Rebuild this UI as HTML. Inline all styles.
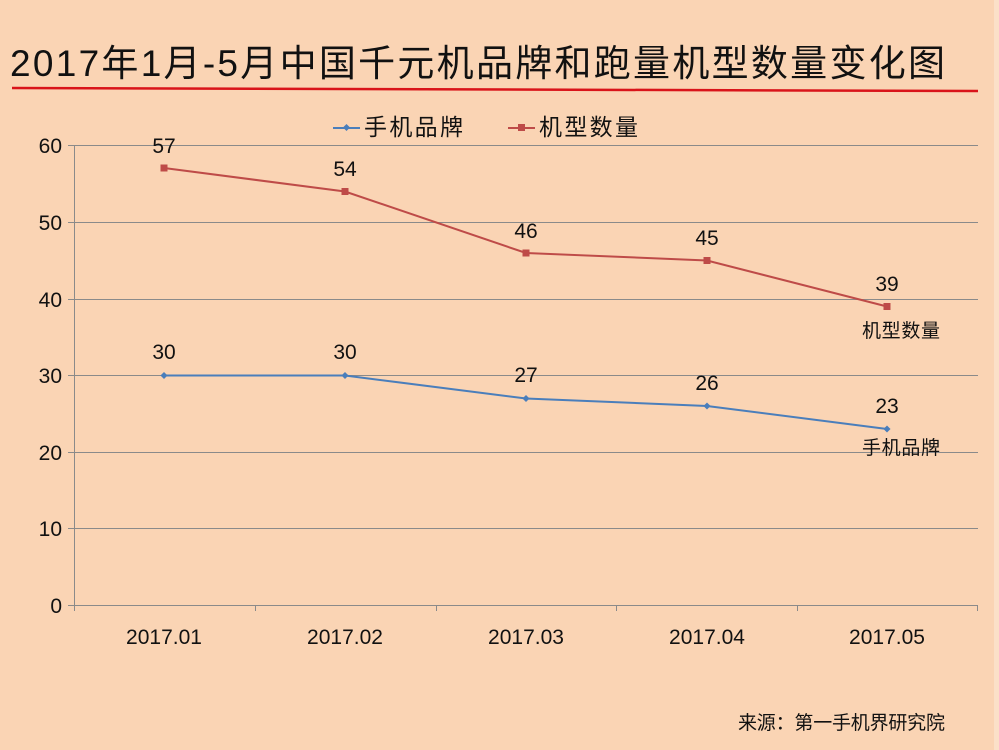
<!DOCTYPE html>
<html><head><meta charset="utf-8"><style>
html,body{margin:0;padding:0;background:#fad4b4;}
svg{display:block;font-family:"Liberation Sans","Noto Sans CJK SC",sans-serif;}
</style></head><body>
<svg width="999" height="750" viewBox="0 0 999 750" xmlns="http://www.w3.org/2000/svg">
<rect width="999" height="750" fill="#fad4b4"/>
<rect x="994" y="0" width="5" height="750" fill="#fbe0c8"/>
<text x="10" y="76" font-size="37" fill="#111" textLength="935" lengthAdjust="spacing">2017年1月-5月中国千元机品牌和跑量机型数量变化图</text>
<line x1="12" y1="88" x2="978" y2="91" stroke="#d9141a" stroke-width="2.5"/>
<g stroke="#8a8a8a" stroke-width="1">
<line x1="68" y1="145.5" x2="978" y2="145.5"/>
<line x1="68" y1="222.5" x2="978" y2="222.5"/>
<line x1="68" y1="299.5" x2="978" y2="299.5"/>
<line x1="68" y1="375.5" x2="978" y2="375.5"/>
<line x1="68" y1="452.5" x2="978" y2="452.5"/>
<line x1="68" y1="528.5" x2="978" y2="528.5"/>
<line x1="68" y1="605.5" x2="978" y2="605.5"/>
<line x1="74.5" y1="145" x2="74.5" y2="605"/>
<line x1="74.5" y1="605" x2="74.5" y2="611"/>
<line x1="255.5" y1="605" x2="255.5" y2="611"/>
<line x1="436.5" y1="605" x2="436.5" y2="611"/>
<line x1="616.5" y1="605" x2="616.5" y2="611"/>
<line x1="797.5" y1="605" x2="797.5" y2="611"/>
<line x1="977.5" y1="605" x2="977.5" y2="611"/>
</g>
<g font-size="21" fill="#111" text-anchor="end">
<text x="62" y="153">60</text><text x="62" y="230">50</text><text x="62" y="307">40</text>
<text x="62" y="383">30</text><text x="62" y="460">20</text><text x="62" y="536">10</text><text x="62" y="613">0</text>
</g>
<g font-size="21" fill="#111" text-anchor="middle">
<text x="164" y="644">2017.01</text><text x="345" y="644">2017.02</text><text x="526" y="644">2017.03</text>
<text x="707" y="644">2017.04</text><text x="887" y="644">2017.05</text>
</g>
<!-- legend -->
<line x1="333" y1="128" x2="360" y2="128" stroke="#4a7ebb" stroke-width="2"/>
<rect x="344" y="125" width="5" height="5" fill="#4a7ebb" transform="rotate(45 346.5 127.5)"/>
<text x="364" y="135" font-size="23" fill="#111" textLength="99" lengthAdjust="spacing">手机品牌</text>
<line x1="508" y1="128" x2="535" y2="128" stroke="#be4b48" stroke-width="2"/>
<rect x="518" y="124" width="7" height="7" fill="#be4b48"/>
<text x="539" y="135" font-size="23" fill="#111" textLength="99" lengthAdjust="spacing">机型数量</text>
<!-- red series -->
<polyline points="164,168 345,191.5 526,253 707,260.5 887,306.5" fill="none" stroke="#be4b48" stroke-width="2"/>
<g fill="#be4b48">
<rect x="160.5" y="164.5" width="7" height="7"/><rect x="341.5" y="188" width="7" height="7"/>
<rect x="522.5" y="249.5" width="7" height="7"/><rect x="703.5" y="257" width="7" height="7"/>
<rect x="883.5" y="303" width="7" height="7"/>
</g>
<!-- blue series -->
<polyline points="164,375.5 345,375.5 526,398.5 707,406 887,429" fill="none" stroke="#4a7ebb" stroke-width="2"/>
<g fill="#4a7ebb">
<rect x="161.5" y="373" width="5" height="5" transform="rotate(45 164 375.5)"/>
<rect x="342.5" y="373" width="5" height="5" transform="rotate(45 345 375.5)"/>
<rect x="523.5" y="396" width="5" height="5" transform="rotate(45 526 398.5)"/>
<rect x="704.5" y="403.5" width="5" height="5" transform="rotate(45 707 406)"/>
<rect x="884.5" y="426.5" width="5" height="5" transform="rotate(45 887 429)"/>
</g>
<g font-size="21" fill="#111" text-anchor="middle">
<text x="164" y="153">57</text><text x="345" y="176">54</text><text x="526" y="238">46</text>
<text x="707" y="245">45</text><text x="887" y="291">39</text>
<text x="164" y="359">30</text><text x="345" y="359">30</text><text x="526" y="382">27</text>
<text x="707" y="390">26</text><text x="887" y="413">23</text>
</g>
<g font-size="19" fill="#111">
<text x="862" y="337" textLength="78" lengthAdjust="spacing">机型数量</text>
<text x="862" y="454" textLength="78" lengthAdjust="spacing">手机品牌</text>
</g>
<text x="738" y="729" font-size="19" fill="#111" textLength="207" lengthAdjust="spacing">来源：第一手机界研究院</text>
</svg>
</body></html>
